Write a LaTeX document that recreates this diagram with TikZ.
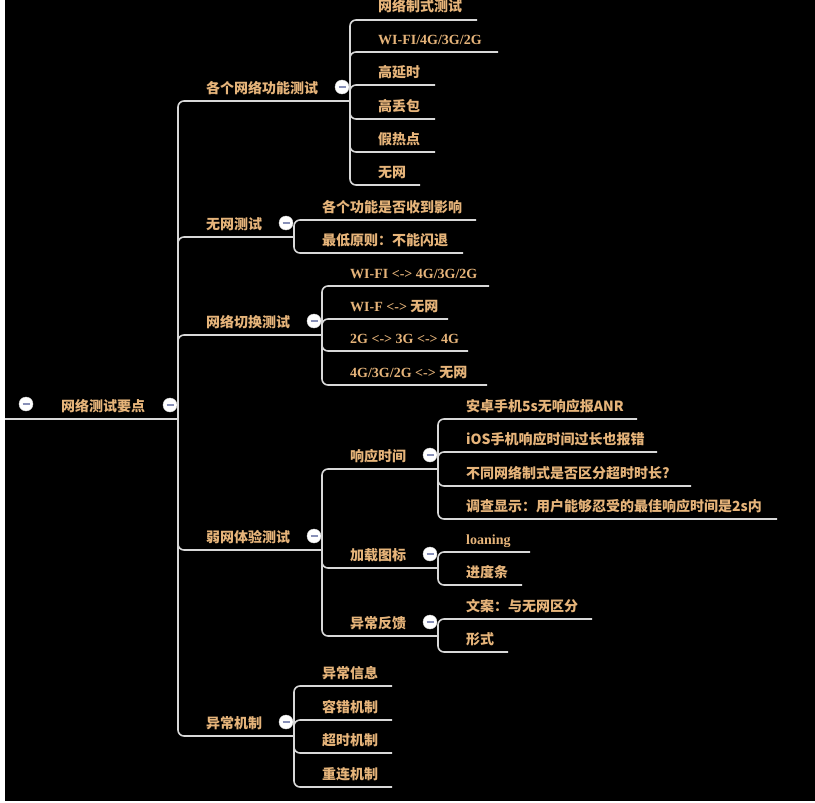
\documentclass[tikz,border=0pt]{standalone}
\usepackage{fontspec}
\setmainfont{Noto Sans CJK SC}
\newfontfamily\lser{Liberation Serif}
\definecolor{txtc}{HTML}{E6B47A}
\definecolor{lnc}{HTML}{D8D8D8}
\definecolor{dashc}{HTML}{8890B8}
\tikzset{
  txt/.style={text=txtc, font=\fontsize{14pt}{16pt}\selectfont\bfseries, inner sep=0pt, anchor=base west},
  ln/.style={draw=lnc, line width=1.6pt, rounded corners=6pt},
  minus/.style={circle, fill=white, draw=lnc, line width=0.4pt, minimum size=14pt, inner sep=0pt,
    path picture={\draw[dashc, line width=1.3pt] ([xshift=-3.5pt]path picture bounding box.center) -- ([xshift=3.5pt]path picture bounding box.center);}}
}
\newcommand\mmn[6]{%
  \coordinate (#1-e) at (#4,#5);
  \node[txt] (#1) at ({#3+28},{#5-8}) {#6};
  \draw[ln] (#2-e) |- (#1-e);
}
\newcommand\mmc[1]{%
  \node[minus] (#1-c) at ([xshift=-8pt,yshift=14pt]#1-e) {};
}
\begin{document}
\begin{tikzpicture}[x=1pt,y=-1pt]
\useasboundingbox (0,0) rectangle (815,803);
\fill[white] (0,0) rectangle (815,803);
\fill[black] (5,0) rectangle (815,801);
% root
\coordinate (root-s) at (5,419);
\coordinate (root-e) at (178,419);
\node[txt] (root) at (61,411) {网络测试要点};
\draw[ln] (root-s) -- (root-e);
\node[minus] (root-l) at (26,404) {};
% level 1
\mmn{a}{root}{178}{350}{101}{各个网络功能测试}
\mmn{b}{root}{178}{294}{237}{无网测试}
\mmn{c}{root}{178}{322}{335}{网络切换测试}
\mmn{d}{root}{178}{322}{550}{弱网体验测试}
\mmn{e}{root}{178}{294}{736}{异常机制}
% A
\mmn{a1}{a}{350}{477}{20}{网络制式测试}
\mmn{a2}{a}{350}{498}{52}{\lser WI-FI/4G/3G/2G}
\mmn{a3}{a}{350}{435}{85}{高延时}
\mmn{a4}{a}{350}{435}{119}{高丢包}
\mmn{a5}{a}{350}{435}{152}{假热点}
\mmn{a6}{a}{350}{420}{185}{无网}
% B
\mmn{b1}{b}{294}{476}{220}{各个功能是否收到影响}
\mmn{b2}{b}{294}{463}{253}{最低原则：不能闪退}
% C
\mmn{c1}{c}{322}{489}{286}{\lser WI-FI <-> 4G/3G/2G}
\mmn{c2}{c}{322}{448}{319}{{\lser WI-F <-> }无网}
\mmn{c3}{c}{322}{468}{351}{\lser 2G <-> 3G <-> 4G}
\mmn{c4}{c}{322}{487}{385}{{\lser 4G/3G/2G <-> }无网}
% D
\mmn{d1}{d}{322}{438}{469}{响应时间}
\mmn{d2}{d}{322}{438}{568}{加载图标}
\mmn{d3}{d}{322}{438}{636}{异常反馈}
\mmn{d11}{d1}{438}{637}{419}{安卓手机5s无响应报ANR}
\mmn{d12}{d1}{438}{657}{452}{iOS手机响应时间过长也报错}
\mmn{d13}{d1}{438}{691}{486}{不同网络制式是否区分超时时长?}
\mmn{d14}{d1}{438}{777}{519}{调查显示：用户能够忍受的最佳响应时间是2s内}
\mmn{d21}{d2}{438}{530}{552}{\lser loaning}
\mmn{d22}{d2}{438}{522}{585}{进度条}
\mmn{d31}{d3}{438}{592}{619}{文案：与无网区分}
\mmn{d32}{d3}{438}{508}{652}{形式}
% E
\mmn{e1}{e}{294}{392}{686}{异常信息}
\mmn{e2}{e}{294}{392}{720}{容错机制}
\mmn{e3}{e}{294}{392}{753}{超时机制}
\mmn{e4}{e}{294}{392}{787}{重连机制}
% collapse circles
\mmc{root}\mmc{a}\mmc{b}\mmc{c}\mmc{d}\mmc{e}\mmc{d1}\mmc{d2}\mmc{d3}
\end{tikzpicture}
\end{document}
